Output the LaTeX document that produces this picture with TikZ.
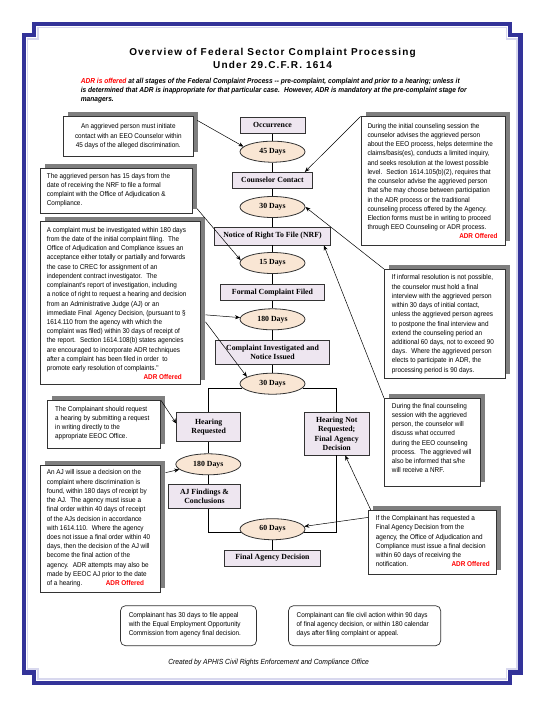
\documentclass[tikz,border=0pt]{standalone}
\usepackage{fontspec}
\setmainfont{Liberation Sans}
\newfontfamily\narrowf[FakeStretch=0.91]{Liberation Sans}
\newfontfamily\titlef[LetterSpace=12]{Liberation Sans}
\newfontfamily\timesf{Liberation Serif}
\usetikzlibrary{arrows.meta,shadows,shapes.geometric,calc}
\definecolor{framblue}{HTML}{333399}
\definecolor{framlav}{HTML}{D8D8EE}
\definecolor{boxfill}{HTML}{EEE6F0}
\definecolor{ellfill}{HTML}{F9E6D4}
\definecolor{shadowgray}{HTML}{7F7F7F}
\definecolor{edgegray}{HTML}{333333}
\definecolor{adrred}{HTML}{FF0000}
\begin{document}
\begin{tikzpicture}[x=1pt,y=-1pt,
  flowbox/.style={draw=edgegray, line width=0.8pt, fill=boxfill, inner sep=0pt, align=center,
    font=\timesf\bfseries\fontsize{7.8}{9.3}\selectfont},
  flowell/.style={ellipse, draw=edgegray, line width=0.8pt, fill=ellfill, inner sep=0pt,
    minimum width=65pt, minimum height=21pt, font=\timesf\bfseries\fontsize{7.8}{9.3}\selectfont},
  sidebox/.style={draw=edgegray, line width=0.6pt, fill=white, inner sep=0pt,
    general shadow={fill=shadowgray, shadow xshift=4.5pt, shadow yshift=4.5pt}},
  sidetext/.style={anchor=north west, inner sep=0pt, align=left,
    font=\narrowf\fontsize{7}{9.22}\selectfont},
  adrtag/.style={anchor=base east, inner sep=0pt, text=adrred,
    font=\narrowf\bfseries\fontsize{7}{9.22}\selectfont},
  roundbox/.style={draw=edgegray, line width=0.7pt, rounded corners=5pt, fill=white, inner sep=0pt},
  conn/.style={draw=black, line width=0.55pt},
  arr/.style={draw=black, line width=0.5pt, -{Stealth[length=5pt,width=4pt]}}
]
\useasboundingbox (0,0) rectangle (545,705);
% frame
\draw[framlav, line width=1.4pt]
  (37.9,27.5) -- (506.3,27.5) -- (506.3,39) -- (516.8,39) -- (516.8,668.8) -- (506.3,668.8)
  -- (506.3,679.1) -- (37.9,679.1) -- (37.9,668.8) -- (27.5,668.8) -- (27.5,39) -- (37.9,39) -- cycle;
\draw[framblue, line width=4.3pt, line join=miter]
  (34.2,23.8) -- (510,23.8) -- (510,35.3) -- (520.5,35.3) -- (520.5,672.5) -- (510,672.5)
  -- (510,682.8) -- (34.2,682.8) -- (34.2,672.5) -- (23.8,672.5) -- (23.8,35.3) -- (34.2,35.3) -- cycle;
% titles
\node[anchor=base, inner sep=0pt, font=\titlef\bfseries\fontsize{10}{11}\selectfont] (title1) at (272.5,55.8)
  {Overview of Federal Sector Complaint Processing};
\node[anchor=base, inner sep=0pt, font=\titlef\bfseries\fontsize{10}{11}\selectfont] (title2) at (272.5,68.6)
  {Under 29.C.F.R. 1614};
\node[anchor=north west, inner sep=0pt, align=left, font=\narrowf\bfseries\itshape\fontsize{7.25}{9.2}\selectfont] (adrnote) at (80.6,78)
  {{\color{adrred}ADR is offered} at all stages of the Federal Complaint Process -- pre-complaint, complaint and prior to a hearing; unless it\\
   is determined that ADR is inappropriate for that particular case.~ However, ADR is mandatory at the pre-complaint stage for\\
   managers.};
% flow nodes
\node[flowbox, minimum width=65pt, minimum height=16pt] (occ) at (272.5,125.2) {Occurrence};
\node[flowell] (d45) at (272.5,151.7) {45 Days};
\node[flowbox, minimum width=80pt, minimum height=16pt] (cc) at (272.5,180.3) {Counselor Contact};
\node[flowell] (d30a) at (272.5,207) {30 Days};
\node[flowbox, minimum width=116pt, minimum height=18pt] (nrf) at (272.5,236) {Notice of Right To File (NRF)};
\node[flowell] (d15) at (272.5,263) {15 Days};
\node[flowbox, minimum width=104pt, minimum height=16.5pt] (fcf) at (272.5,292.5) {Formal Complaint Filed};
\node[flowell] (d180a) at (272.5,319.3) {180 Days};
\node[flowbox, minimum width=114pt, minimum height=24.5pt] (civ) at (272.5,352.2) {Complaint Investigated and\\Notice Issued};
\node[flowell] (d30b) at (272.5,383.7) {30 Days};
\node[flowbox, minimum width=64pt, minimum height=29.4pt] (hr) at (208.7,427) {Hearing\\Requested};
\node[flowbox, minimum width=64.7pt, minimum height=42.7pt] (hnr) at (336.7,433.7) {Hearing Not\\Requested;\\Final Agency\\Decision};
\node[flowell] (d180b) at (208.3,464.3) {180 Days};
\node[flowbox, minimum width=72.4pt, minimum height=24.3pt] (aj) at (204.5,496.2) {AJ Findings \&\\Conclusions};
\node[flowell] (d60) at (272.5,529.2) {60 Days};
\node[flowbox, minimum width=96.4pt, minimum height=16pt] (fad) at (272.5,558) {Final Agency Decision};
% flow connectors
\draw[conn] (occ) -- (d45);
\draw[conn] (d45) -- (cc);
\draw[conn] (cc) -- (d30a);
\draw[conn] (d30a) -- (nrf);
\draw[conn] (nrf) -- (d15);
\draw[conn] (d15) -- (fcf);
\draw[conn] (fcf) -- (d180a);
\draw[conn] (d180a) -- (civ);
\draw[conn] (civ) -- (d30b);
\draw[conn] (d30b.188) -| (hr.north);
\draw[conn] (d30b.352) -| (hnr.north);
\draw[conn] (hr.south -| d180b.north) -- (d180b.north);
\draw[conn] (d180b.south) -- (d180b.south |- aj.north);
\draw[conn] (aj.south -| d180b.south) |- (d60.186);
\draw[conn] (hnr.south) |- (d60.354);
\draw[conn] (d60) -- (fad);
% side boxes
\node[sidebox, minimum width=129.4pt, minimum height=40pt] (b1) at (128.3,136.7) {};
\node[sidetext, anchor=north, align=center] (t1) at (128.3,123.7)
  {An aggrieved person must initiate\\contact with an EEO Counselor within\\45 days of the alleged discrimination.};
\node[sidebox, minimum width=144pt, minimum height=128.3pt] (b2) at (433,180.85) {};
\node[sidetext] (t2) at (367.3,123)
  {During the initial counseling session the\\
   counselor advises the aggrieved person\\
   about the EEO process, helps determine the\\
   claims/basis(es), conducts a limited inquiry,\\
   and seeks resolution at the lowest possible\\
   level.~ Section 1614.105(b)(2), requires that\\
   the counselor advise the aggrieved person\\
   that s/he may choose between participation\\
   in the ADR process or the traditional\\
   counseling process offered by the Agency.\\
   Election forms must be in writing to proceed\\
   through EEO Counseling or ADR process.};
\node[adrtag] (a2) at (497.7,238.2) {ADR Offered};
\node[sidebox, minimum width=152pt, minimum height=45pt] (b3) at (116.7,190.8) {};
\node[sidetext] (t3) at (46.7,173)
  {The aggrieved person has 15 days from the\\
   date of receiving the NRF to file a formal\\
   complaint with the Office of Adjudication \&\\
   Compliance.};
\node[sidebox, minimum width=160.2pt, minimum height=162.3pt] (b4) at (120.6,302.85) {};
\node[sidetext] (t4) at (46.7,227)
  {A complaint must be investigated within 180 days\\
   from the date of the initial complaint filing.~ The\\
   Office of Adjudication and Compliance issues an\\
   acceptance either totally or partially and forwards\\
   the case to CREC for assignment of an\\
   independent contract investigator.~ The\\
   complainant's report of investigation, including\\
   a notice of right to request a hearing and decision\\
   from an Administrative Judge (AJ) or an\\
   immediate Final~ Agency Decision, (pursuant to \S\\
   1614.110 from the agency with which the\\
   complaint was filed) within 30 days of receipt of\\
   the report.~ Section 1614.108(b) states agencies\\
   are encouraged to incorporate ADR techniques\\
   after a complaint has been filed in order~ to\\
   promote early resolution of complaints."};
\node[adrtag] (a4) at (182,379.5) {ADR Offered};
\node[sidebox, minimum width=121.4pt, minimum height=109pt] (b5) at (445,323.8) {};
\node[sidetext] (t5) at (391.7,274.7)
  {If informal resolution is not possible,\\
   the counselor must hold a final\\
   interview with the aggrieved person\\
   within 30 days of initial contact,\\
   unless the aggrieved person agrees\\
   to postpone the final interview and\\
   extend the counseling period an\\
   additional 60 days, not to exceed 90\\
   days.~ Where the aggrieved person\\
   elects to participate in ADR, the\\
   processing period is 90 days.};
\node[sidebox, minimum width=96.4pt, minimum height=88.4pt] (b6) at (432.5,442.5) {};
\node[sidetext] (t6) at (391.7,403)
  {During the final counseling\\
   session with the aggrieved\\
   person, the counselor will\\
   discuss what occurred\\
   during the EEO counseling\\
   process.~ The aggrieved will\\
   also be informed that s/he\\
   will receive a NRF.};
\node[sidebox, minimum width=128.4pt, minimum height=63.6pt] (b7) at (432.5,542.5) {};
\node[sidetext] (t7) at (375.7,515.3)
  {If the Complainant has requested a\\
   Final Agency Decision from the\\
   agency, the Office of Adjudication and\\
   Compliance must issue a final decision\\
   within 60 days of receiving the\\
   notification.};
\node[adrtag] (a7) at (490,566.5) {ADR Offered};
\node[sidebox, minimum width=113.4pt, minimum height=47.6pt] (b8) at (104,424.5) {};
\node[sidetext] (t8) at (55,406)
  {The Complainant should request\\
   a hearing by submitting a request\\
   in writing directly to the\\
   appropriate EEOC Office.};
\node[sidebox, minimum width=120.7pt, minimum height=127.7pt] (b9) at (100.35,528.85) {};
\node[sidetext] (t9) at (46.7,469.7)
  {An AJ will issue a decision on the\\
   complaint where discrimination is\\
   found, within 180 days of receipt by\\
   the AJ.~ The agency must issue a\\
   final order within 40 days of receipt\\
   of the AJs decision in accordance\\
   with 1614.110.~ Where the agency\\
   does not issue a final order within 40\\
   days, then the decision of the AJ will\\
   become the final action of the\\
   agency.~ ADR attempts may also be\\
   made by EEOC AJ prior to the date\\
   of a hearing.};
\node[adrtag] (a9) at (144.3,585.9) {ADR Offered};
% bottom boxes
\node[roundbox, minimum width=136pt, minimum height=40pt] (bl) at (188.5,625.7) {};
\node[sidetext] (tl) at (128.6,612)
  {Complainant has 30 days to file appeal\\
   with the Equal Employment Opportunity\\
   Commission from agency final decision.};
\node[roundbox, minimum width=152.2pt, minimum height=40pt] (br) at (364.6,625.7) {};
\node[sidetext] (tr) at (296.5,612)
  {Complainant can file civil action within 90 days\\
   of final agency decision, or within 180 calendar\\
   days after filing complaint or appeal.};
\node[anchor=base, inner sep=0pt, font=\narrowf\itshape\fontsize{7.4}{9}\selectfont] (credit) at (268.6,664.3)
  {Created by APHIS Civil Rights Enforcement and Compliance Office};
% annotation arrows
\draw[arr] ([xshift=4pt,yshift=-4pt]b1.north east) -- (d45.170);
\draw[arr] (b2.north west) -- ([xshift=-8pt]cc.north east);
\draw[arr] ([xshift=4pt,yshift=5pt]b3.south east) -- (d15.175);
\draw[arr] (b5.north west) -- (d30a.east);
\draw[arr] (b6.north west) -- ([xshift=-7pt]nrf.south east);
\draw[arr] ([xshift=4.5pt,yshift=-12pt]b4.east) -- (d180a.177);
\draw[arr] ([xshift=4.5pt,yshift=-19pt]b4.east) -- (d30b.165);
\draw[arr] (b8.north east) -- ([yshift=3.5pt]hr.west);
\draw[arr] ([xshift=4.5pt,yshift=-8pt]b9.north east) -- (d180b.190);
\draw[arr] ([yshift=-7pt]b7.north west) -- (d60.5);
\draw[arr] ([xshift=3pt]b7.north west) -- ([xshift=8.5pt]hnr.south);
\end{tikzpicture}
\end{document}
